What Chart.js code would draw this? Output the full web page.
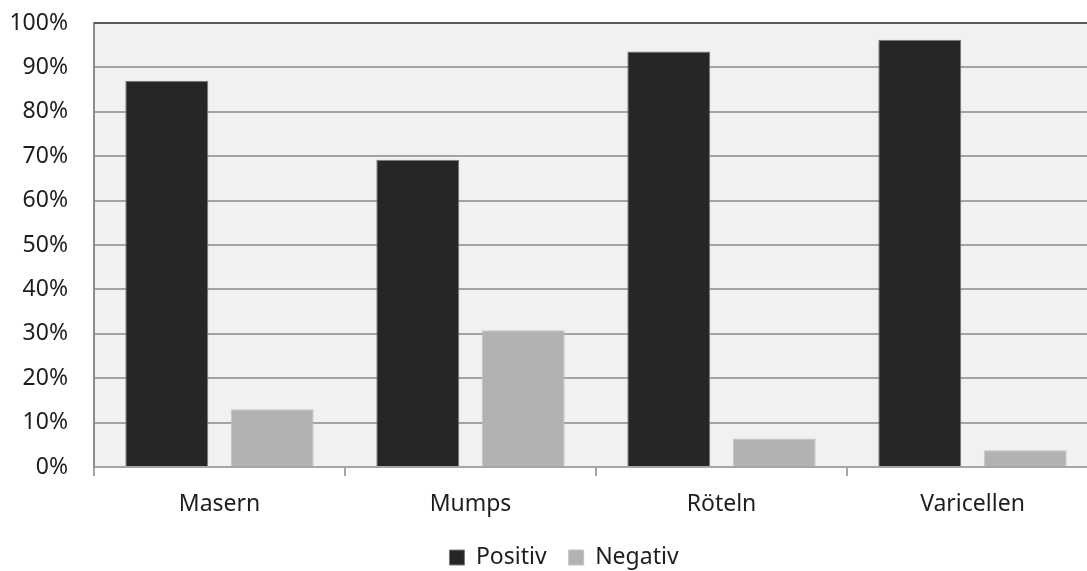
<!DOCTYPE html>
<html>
<head>
<meta charset="utf-8">
<script src="https://cdn.jsdelivr.net/npm/chart.js@4"></script>
<style>
  html, body { margin: 0; padding: 0; background: #ffffff; overflow: hidden; }
  #wrap { width: 1087px; height: 571px; overflow: hidden; }
  canvas { display: block; }
</style>
</head>
<body>
<div id="wrap"><canvas id="c" width="1100" height="580"></canvas></div>
<script>
// Anteil positiver / negativer Befunde je Erkrankung (in %)
const categories = ['Masern', 'Mumps', 'Röteln', 'Varicellen'];
const positiv = [87, 69.2, 93.6, 96.2];
const negativ = [13, 30.8, 6.4, 3.8];
const yTicks = [0, 10, 20, 30, 40, 50, 60, 70, 80, 90, 100];

const FONT = "'Noto Sans', 'DejaVu Sans', sans-serif";

// grey plot background plus a dark frame line along the top
const plotFrame = {
  id: 'plotFrame',
  beforeDraw(chart) {
    const { ctx, chartArea: a } = chart;
    ctx.save();
    ctx.fillStyle = '#f1f1f1';
    ctx.fillRect(a.left, a.top, a.right - a.left, a.bottom - a.top);
    ctx.restore();
  },
  afterDatasetsDraw(chart) {
    const { ctx, chartArea: a } = chart;
    ctx.save();
    ctx.strokeStyle = '#5a5a5a';
    ctx.lineWidth = 2;
    ctx.beginPath();
    ctx.moveTo(a.left, a.top);
    ctx.lineTo(a.right, a.top);
    ctx.stroke();
    ctx.restore();
  }
};

// centre the legend under the plot area rather than the whole canvas
const legendShift = {
  id: 'legendShift',
  afterLayout(chart) {
    const lg = chart.legend;
    if (lg) { lg.left += 15; lg.right += 15; }
  }
};

new Chart(document.getElementById('c'), {
  type: 'bar',
  data: {
    labels: categories,
    datasets: [
      {
        label: 'Positiv',
        data: positiv,
        backgroundColor: '#262626',
        borderColor: '#7a7a7a',
        borderWidth: 1
      },
      {
        label: 'Negativ',
        data: negativ,
        backgroundColor: '#b2b2b2',
        borderColor: '#c4c4c4',
        borderWidth: 1
      }
    ]
  },
  options: {
    responsive: false,
    animation: false,
    devicePixelRatio: 1,
    categoryPercentage: 0.84,
    barPercentage: 0.787,
    layout: { padding: { left: 0, right: 2, top: 23, bottom: 1 } },
    plugins: {
      legend: {
        position: 'bottom',
        labels: {
          color: '#1e1e1e',
          font: { family: FONT, size: 23 },
          boxWidth: 15,
          boxHeight: 15,
          padding: 22
        }
      },
      tooltip: { enabled: false }
    },
    scales: {
      x: {
        grid: {
          display: true,
          drawOnChartArea: false,
          drawTicks: true,
          tickLength: 9,
          color: '#a6a6a6',
          lineWidth: 2
        },
        border: { display: true, color: '#a6a6a6', width: 2 },
        ticks: {
          color: '#1e1e1e',
          font: { family: FONT, size: 23 },
          padding: 15
        },
        afterFit(scale) { scale.height = 57; }
      },
      y: {
        min: 0,
        max: 100,
        afterBuildTicks(scale) {
          scale.ticks = yTicks.map(v => ({ value: v }));
        },
        grid: {
          color: '#a3a3a3',
          lineWidth: 2,
          drawTicks: false
        },
        border: { display: true, color: '#8c8c8c', width: 2 },
        ticks: {
          color: '#1e1e1e',
          font: { family: FONT, size: 23 },
          padding: 26,
          callback: v => v + '%'
        },
        afterFit(scale) {
          scale.width = 94;
          scale.paddingTop = 0;
          scale.paddingBottom = 0;
        }
      }
    }
  },
  plugins: [plotFrame, legendShift]
});
</script>
</body>
</html>
